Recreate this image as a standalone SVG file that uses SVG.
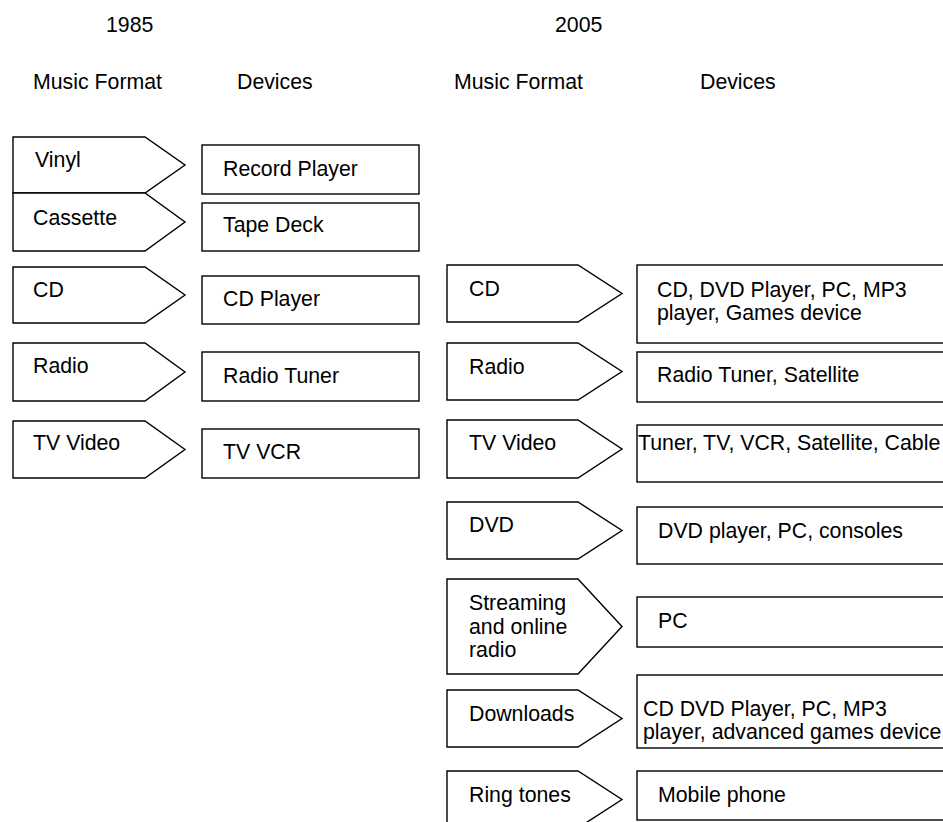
<svg xmlns="http://www.w3.org/2000/svg" width="943" height="822" viewBox="0 0 943 822">
<style>
text{font-family:"Liberation Sans",Arial,sans-serif;font-size:21.3px;fill:#000}
.s{fill:#fff;stroke:#000;stroke-width:1.4}
</style>
<rect width="943" height="822" fill="#fff"/>
<g id="headers">
<text x="106" y="32">1985</text>
<text x="555" y="32">2005</text>
<text x="33" y="89">Music Format</text>
<text x="237" y="89">Devices</text>
<text x="454" y="89">Music Format</text>
<text x="700" y="89">Devices</text>
</g>
<g id="connectors"/>
<!-- 1985 formats -->
<g id="f85-vinyl"><path class="s" d="M13,137H145L185,165L145,193H13Z"/><text x="35" y="167">Vinyl</text></g>
<g id="f85-cassette"><path class="s" d="M13,193H145L185,222L145,251H13Z"/><text x="33" y="225">Cassette</text></g>
<g id="f85-cd"><path class="s" d="M13,267H145L185,295L145,323H13Z"/><text x="33" y="297">CD</text></g>
<g id="f85-radio"><path class="s" d="M13,343H145L185,372L145,401H13Z"/><text x="33" y="373">Radio</text></g>
<g id="f85-tv"><path class="s" d="M13,421H145L185,449.5L145,478H13Z"/><text x="33" y="450">TV Video</text></g>
<!-- 1985 devices -->
<g id="d85-record"><rect class="s" x="202" y="145" width="217" height="49"/><text x="223" y="176">Record Player</text></g>
<g id="d85-tape"><rect class="s" x="202" y="203" width="217" height="48"/><text x="223" y="232">Tape Deck</text></g>
<g id="d85-cd"><rect class="s" x="202" y="276" width="217" height="48"/><text x="223" y="306">CD Player</text></g>
<g id="d85-radio"><rect class="s" x="202" y="352" width="217" height="49"/><text x="223" y="383">Radio Tuner</text></g>
<g id="d85-tv"><rect class="s" x="202" y="429" width="217" height="49"/><text x="223" y="459">TV VCR</text></g>
<!-- 2005 formats -->
<g id="f05-cd"><path class="s" d="M447,265H578L622,293.5L578,322H447Z"/><text x="469" y="296">CD</text></g>
<g id="f05-radio"><path class="s" d="M447,343H578L622,371.5L578,400H447Z"/><text x="469" y="374">Radio</text></g>
<g id="f05-tv"><path class="s" d="M447,420H578L622,449L578,478H447Z"/><text x="469" y="450">TV Video</text></g>
<g id="f05-dvd"><path class="s" d="M447,502H578L622,530.5L578,559H447Z"/><text x="469" y="532">DVD</text></g>
<g id="f05-stream"><path class="s" d="M447,579H578L622,626.5L578,674H447Z"/><text x="469" y="610">Streaming</text><text x="469" y="634">and online</text><text x="469" y="657">radio</text></g>
<g id="f05-downloads"><path class="s" d="M447,690H578L622,718.5L578,747H447Z"/><text x="469" y="721">Downloads</text></g>
<g id="f05-ring"><path class="s" d="M447,771H578L622,799.5L578,828H447Z"/><text x="469" y="802">Ring tones</text></g>
<!-- 2005 devices -->
<g id="d05-cd"><rect class="s" x="637" y="265" width="330" height="78"/><text x="657" y="297">CD, DVD Player, PC, MP3</text><text x="657" y="320">player, Games device</text></g>
<g id="d05-radio"><rect class="s" x="637" y="352" width="330" height="50"/><text x="657" y="382">Radio Tuner, Satellite</text></g>
<g id="d05-tv"><rect class="s" x="637" y="425" width="330" height="57"/><text x="638" y="450">Tuner, TV, VCR, Satellite, Cable</text></g>
<g id="d05-dvd"><rect class="s" x="637" y="507" width="330" height="57"/><text x="658" y="538">DVD player, PC, consoles</text></g>
<g id="d05-pc"><rect class="s" x="637" y="597" width="330" height="50"/><text x="658" y="628">PC</text></g>
<g id="d05-downloads"><rect class="s" x="637" y="675" width="330" height="73"/><text x="643" y="716">CD DVD Player, PC, MP3</text><text x="643" y="739">player, advanced games device</text></g>
<g id="d05-ring"><rect class="s" x="637" y="771" width="330" height="49"/><text x="658" y="802">Mobile phone</text></g>
</svg>
